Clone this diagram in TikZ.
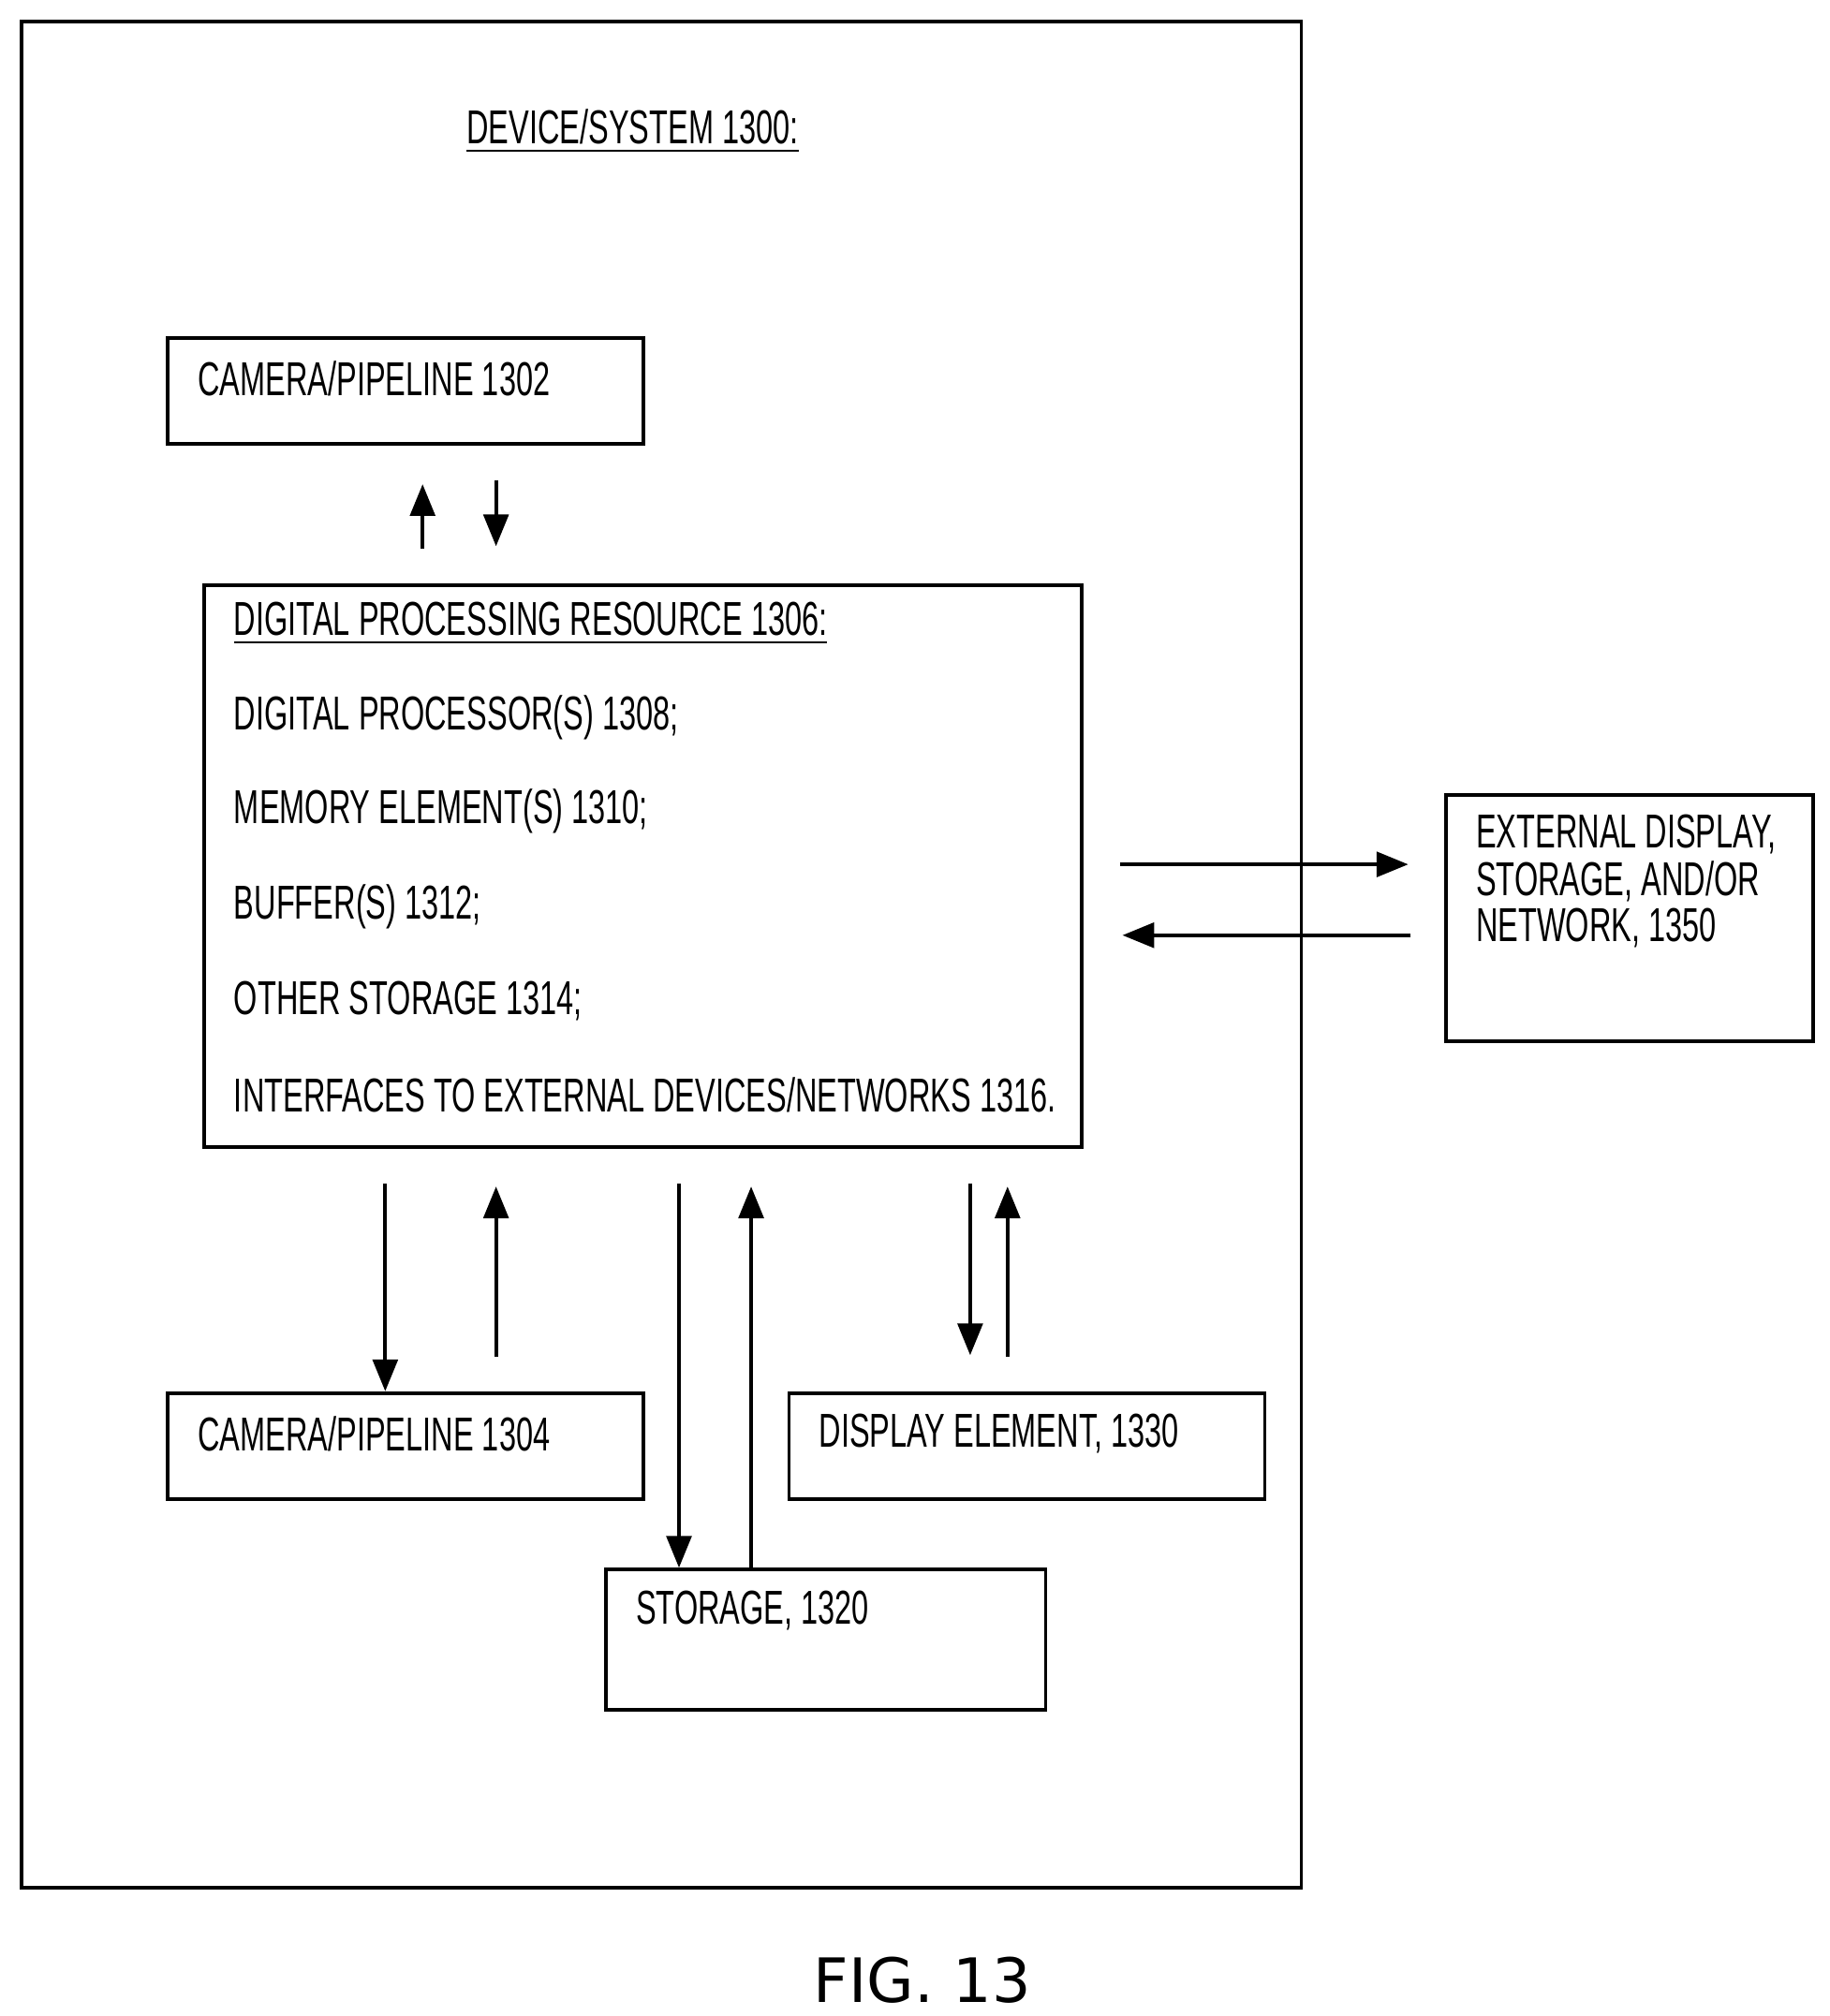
\documentclass[tikz,border=0pt]{standalone}
\usepackage{fontspec}
\setmainfont{Liberation Sans}[FakeStretch=0.64]
\newfontfamily\figfont{DejaVu Sans}
\usetikzlibrary{arrows.meta,positioning,calc}
\tikzset{
  box/.style={draw, line width=0.8pt, anchor=north west, inner sep=0pt},
  lbl/.style={anchor=west, inner sep=0pt, font=\fontsize{10.5}{12}\selectfont},
  arr/.style={line width=0.8pt, -{Triangle[length=7pt,width=5.5pt]}}
}
\begin{document}
\begin{tikzpicture}[x=0.01cm,y=-0.01cm]
  \useasboundingbox (0,0) rectangle (1420,1565);
  % outer device box and its title
  \node[box, minimum width=9.93cm, minimum height=14.48cm] (device) at (15,15) {};
  \node[lbl, anchor=center] (title) at (491,102) {\underline{DEVICE/SYSTEM 1300:}};

  % blocks
  \node[box, minimum width=3.69cm, minimum height=0.82cm] (cam1) at (129,261) {};
  \node[box, minimum width=6.81cm, minimum height=4.36cm] (dpr) at (157,453) {};
  \node[box, minimum width=2.85cm, minimum height=1.91cm] (ext) at (1121,616) {};
  \node[box, minimum width=3.69cm, minimum height=0.82cm] (cam2) at (129,1080) {};
  \node[box, minimum width=3.69cm, minimum height=0.82cm] (disp) at (611,1080) {};
  \node[box, minimum width=3.41cm, minimum height=1.09cm] (stor) at (469,1217) {};

  % texts
  \node[lbl] (cam1txt) at (153,294) {CAMERA/PIPELINE 1302};
  \node[lbl] (dpr0) at (181,484) {\underline{DIGITAL PROCESSING RESOURCE 1306:}};
  \node[lbl] (dpr1) at (181,557) {DIGITAL PROCESSOR(S) 1308;};
  \node[lbl] (dpr2) at (181,630) {MEMORY ELEMENT(S) 1310;};
  \node[lbl] (dpr3) at (181,704) {BUFFER(S) 1312;};
  \node[lbl] (dpr4) at (181,777) {OTHER STORAGE 1314;};
  \node[lbl] (dpr5) at (181,850) {INTERFACES TO EXTERNAL DEVICES/NETWORKS 1316.};
  \node[lbl] (ext1) at (1145,648) {EXTERNAL DISPLAY,};
  \node[lbl] (ext2) at (1145,684) {STORAGE, AND/OR};
  \node[lbl] (ext3) at (1145,720) {NETWORK, 1350};
  \node[lbl] (cam2txt) at (153,1113) {CAMERA/PIPELINE 1304};
  \node[lbl] (disptxt) at (635,1113) {DISPLAY ELEMENT, 1330};
  \node[lbl] (stortxt) at (493,1250) {STORAGE, 1320};

  % arrows
  \draw[arr] ($(dpr.north west)+(171,-27)$) -- ($(cam1.south west)+(199,30)$);
  \draw[arr] ($(cam1.south west)+(256,27)$) -- ($(dpr.north west)+(228,-29)$);
  \draw[arr] ($(dpr.north east)+(28,218)$) -- ($(ext.north west)+(-28,55)$);
  \draw[arr] ($(ext.north west)+(-26,110)$) -- ($(dpr.north east)+(30,273)$);
  \draw[arr] ($(dpr.south west)+(142,27)$) -- ($(cam2.north west)+(170,0)$);
  \draw[arr] ($(cam2.north west)+(256,-27)$) -- ($(dpr.south west)+(228,29)$);
  \draw[arr] ($(dpr.south west)+(370,27)$) -- ($(stor.north west)+(58,0)$);
  \draw[arr] ($(stor.north west)+(114,0)$) -- ($(dpr.south west)+(426,29)$);
  \draw[arr] ($(dpr.south west)+(596,27)$) -- ($(disp.north west)+(142,-28)$);
  \draw[arr] ($(disp.north west)+(171,-27)$) -- ($(dpr.south west)+(625,29)$);

  % caption
  \node[font=\figfont\fontsize{13.5}{15}\selectfont] (fig) at (716,1537) {FIG. 13};
\end{tikzpicture}
\end{document}
